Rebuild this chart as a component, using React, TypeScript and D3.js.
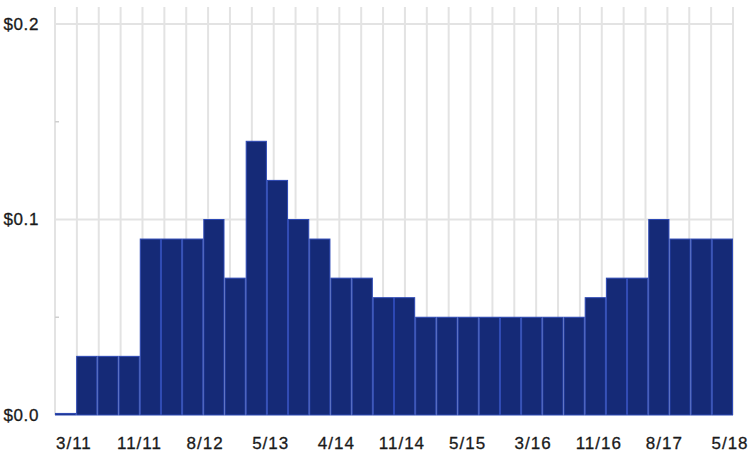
import * as d3 from 'd3'
import * as React from 'react'

//------------------------------data------------------------------
const periods = [
  '12/10', '3/11', '5/11', '8/11', '11/11', '2/12', '5/12', '8/12',
  '11/12', '2/13', '5/13', '8/13', '11/13', '4/14', '6/14', '8/14',
  '11/14', '2/15', '3/15', '5/15', '8/15', '11/15', '3/16', '5/16',
  '8/16', '11/16', '2/17', '5/17', '8/17', '11/17', '2/18', '5/18'
]
const dividends = [
  0.0008, 0.03, 0.03, 0.03, 0.09, 0.09, 0.09, 0.1,
  0.07, 0.14, 0.12, 0.1, 0.09, 0.07, 0.07, 0.06,
  0.06, 0.05, 0.05, 0.05, 0.05, 0.05, 0.05, 0.05,
  0.05, 0.06, 0.07, 0.07, 0.1, 0.09, 0.09, 0.09
]
const yTicks = [0, 0.1, 0.2]
const yMinorTicks = [0.05, 0.15]
// every third period gets a label
const labelEvery = 3
const labelOffset = 1

const WIDTH = 752
const HEIGHT = 454
const LEFT = 55
const RIGHT = 733
const TOP = 7
const BOTTOM = 415
const FONT = '"Liberation Sans", Arial, sans-serif'

//------------------------------Component------------------------------
export default function App() {
  const xBand = d3.scaleBand<string>().domain(periods).range([LEFT, RIGHT]).padding(0)
  const xPoint = d3.scalePoint<string>().domain(periods).range([LEFT, RIGHT])
  const y = d3.scaleLinear().domain([0, 0.2]).range([BOTTOM, 24])
  const fmt = d3.format('.1f')

  return (
    <svg
      width={WIDTH}
      height={HEIGHT}
      style={{ position: 'absolute', left: 0, top: 0, background: '#fff' }}
    >
      {/* grid */}
      <g stroke="#e3e3e3" strokeWidth={2}>
        {periods.map(p => (
          <line key={p} x1={xPoint(p)} x2={xPoint(p)} y1={TOP} y2={BOTTOM} />
        ))}
        {yTicks
          .filter(t => t > 0)
          .map(t => (
            <line key={t} x1={LEFT} x2={RIGHT} y1={y(t)} y2={y(t)} />
          ))}
      </g>
      <g stroke="#cfcfcf" strokeWidth={1.5}>
        {yMinorTicks.map(t => (
          <line key={t} x1={LEFT} x2={LEFT + 4} y1={y(t)} y2={y(t)} />
        ))}
      </g>
      {/* bars */}
      <g>
        {periods.map((p, i) => {
          const x0 = xBand(p) as number
          const top = y(dividends[i])
          return (
            <rect
              key={p}
              x={x0 + 0.5}
              y={top}
              width={xBand.bandwidth() - 1}
              height={Math.max(1, BOTTOM - top)}
              fill="#152a77"
              stroke="#2c48b4"
              strokeWidth={1}
            />
          )
        })}
      </g>
      {/* y labels */}
      <g fontFamily={FONT} fontSize={17} fill="#1a1a1a" stroke="#1a1a1a" strokeWidth={0.3}>
        {yTicks.map(t => (
          <text key={t} x={39} y={y(t)} dy="0.35em" textAnchor="end" letterSpacing={0.6}>
            ${fmt(t)}
          </text>
        ))}
      </g>
      {/* x labels */}
      <g fontFamily={FONT} fontSize={17} fill="#1a1a1a" stroke="#1a1a1a" strokeWidth={0.3}>
        {periods.map((p, i) =>
          i % labelEvery === labelOffset ? (
            <text
              key={p}
              x={(xPoint(p) as number) - 3}
              y={449}
              textAnchor="middle"
              letterSpacing={1}
            >
              {p}
            </text>
          ) : null
        )}
      </g>
    </svg>
  )
}
